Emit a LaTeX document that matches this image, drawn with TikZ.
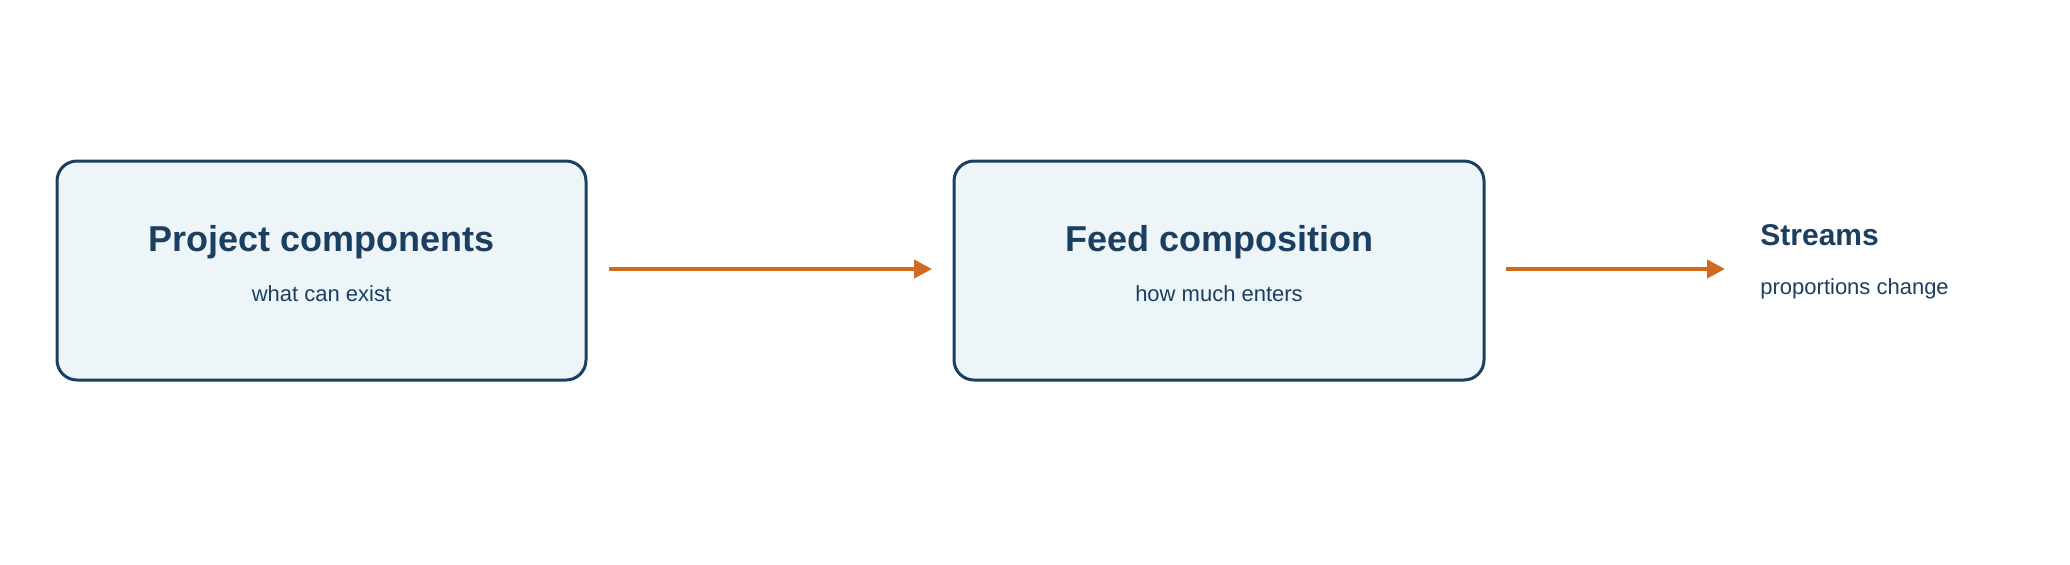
\documentclass[tikz,border=0pt]{standalone}
\usepackage{fontspec}
\setmainfont{Liberation Sans}
\usetikzlibrary{arrows.meta}
\definecolor{navy}{HTML}{1B3F60}
\definecolor{boxfill}{HTML}{EEF5F9}
\definecolor{orng}{HTML}{D2691E}
\begin{document}
\begin{tikzpicture}[x=0.5pt,y=-0.5pt,
  box/.style={draw=navy,fill=boxfill,line width=1.5pt,rounded corners=10pt},
  ttl/.style={text=navy,font=\bfseries\fontsize{18}{20}\selectfont,inner sep=0},
  sub/.style={text=navy,font=\fontsize{11}{13}\selectfont,inner sep=0},
  arr/.style={draw=orng,line width=2pt,-{Triangle[length=9pt,width=9pt]}}]
\useasboundingbox (0,0) rectangle (2070,564);
\draw[box] (57,161) rectangle (586,380);
\node[ttl] (t1) at (321.5,242) {Project components};
\node[sub] (s1) at (321.5,294) {what can exist};
\draw[box] (954,161) rectangle (1484,380);
\node[ttl] (t2) at (1219,242) {Feed composition};
\node[sub] (s2) at (1219,294) {how much enters};
\node[ttl,anchor=west,font=\bfseries\fontsize{15}{17}\selectfont] (t3) at (1760,235) {Streams};
\node[sub,anchor=west] (s3) at (1760,289) {proportions change};
\coordinate (a1) at (609,269); \coordinate (b1) at (932,269);
\coordinate (a2) at (1506,269); \coordinate (b2) at (1725,269);
\draw[arr] (a1) -- (b1);
\draw[arr] (a2) -- (b2);
\end{tikzpicture}
\end{document}
